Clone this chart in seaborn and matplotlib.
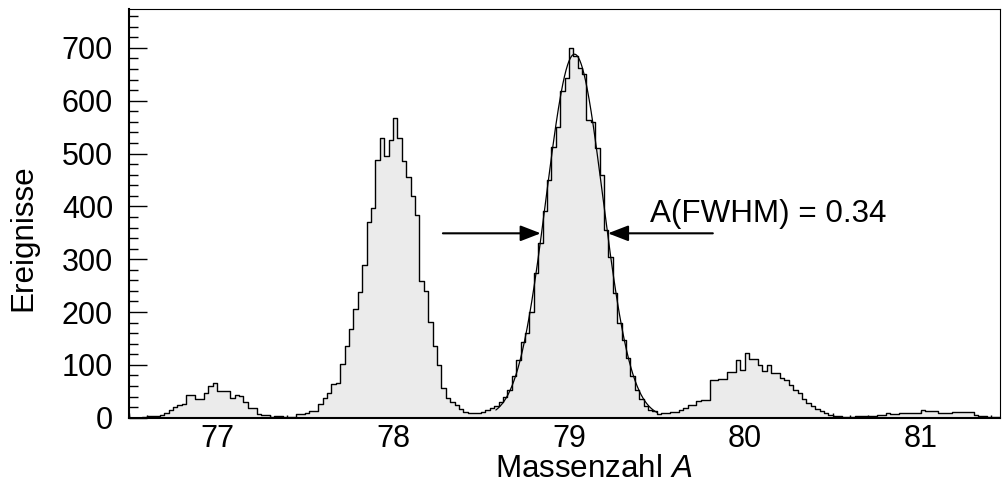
import numpy as np
import pandas as pd
import matplotlib
matplotlib.use("Agg")
import matplotlib.pyplot as plt
import seaborn as sns
from matplotlib.ticker import MultipleLocator, FixedLocator, NullFormatter

# ---------------- data ----------------
BIN_START = 76.5
BIN_WIDTH = 0.025

counts = [
    0, 0, 0, 2, 3, 4, 4, 5, 9, 14,            # 76.500 -
    20, 24, 26, 43, 43, 35, 36, 46, 60, 66,   # 76.750 -
    51, 51, 51, 37, 43, 42, 30, 19, 19, 7,    # 77.000 -
    5, 5, 2, 3, 3, 1, 1, 1, 7, 7,             # 77.250 -
    8, 12, 12, 26, 38, 46, 63, 65, 101, 135,  # 77.500 -
    168, 205, 237, 289, 371, 397, 488, 530, 496, 526,  # 77.750 -
    567, 530, 485, 456, 419, 384, 258, 239, 182, 135,  # 78.000 -
    100, 56, 37, 30, 24, 17, 11, 9, 9, 9,     # 78.250 -
    11, 14, 19, 22, 30, 40, 52, 78, 109, 144, # 78.500 -
    160, 200, 274, 330, 391, 450, 513, 551, 618, 643,  # 78.750 -
    700, 684, 662, 650, 564, 560, 510, 460, 356, 305,  # 79.000 -
    236, 179, 147, 113, 78, 52, 35, 22, 14, 13,        # 79.250 -
    7, 8, 8, 11, 11, 14, 18, 24, 24, 32,      # 79.500 -
    34, 34, 71, 72, 73, 73, 87, 87, 110, 90,  # 79.750 -
    123, 112, 112, 100, 89, 100, 84, 85, 75, 71,  # 80.000 -
    62, 53, 46, 36, 28, 22, 17, 12, 8, 6,     # 80.250 -
    3, 3, 2, 2, 2, 3, 3, 3, 4, 3,             # 80.500 -
    5, 5, 8, 7, 7, 8, 8, 9, 9, 9,             # 80.750 -
    14, 12, 12, 12, 8, 8, 8, 10, 10, 10,      # 81.000 -
    10, 11, 5, 3, 3, 2, 2, 2,                 # 81.250 - 81.450
]

x_ticks = [77, 78, 79, 80, 81]
x_half_ticks = [76.5, 77.5, 78.5, 79.5, 80.5]
y_ticks = [0, 100, 200, 300, 400, 500, 600, 700]

# Gaussian fit of the A = 79 peak
FIT_AMP = 688
FIT_MEAN = 79.032
FIT_SIGMA = 0.161
FIT_FROM, FIT_TO = 78.585, 79.50

fwhm_label = "A(FWHM) = 0.34"
x_label = "Massenzahl $A$"
y_label = "Ereignisse"

# ---------------- style ----------------
sns.set_theme(style="ticks")
plt.rcParams["font.family"] = ["Liberation Sans", "DejaVu Sans"]
plt.rcParams["mathtext.fontset"] = "custom"
plt.rcParams["mathtext.rm"] = "Liberation Sans"
plt.rcParams["mathtext.it"] = "Liberation Sans:italic"
for key in ["text.color", "axes.labelcolor", "xtick.color", "ytick.color",
            "axes.edgecolor"]:
    plt.rcParams[key] = "black"

FS_TICK = 22
FS_TEXT = 22.6

fig = plt.figure(figsize=(10.03, 4.92), dpi=100)
ax = fig.add_axes([129 / 1003, 1 - 417.7 / 492, (1000 - 129) / 1003, (417.7 - 9.3) / 492])

edges = BIN_START + BIN_WIDTH * np.arange(len(counts) + 1)
centers = edges[:-1] + BIN_WIDTH / 2
df = pd.DataFrame({"A": centers, "n": counts})

sns.histplot(data=df, x="A", weights="n", bins=[float(e) for e in edges],
             element="step", fill=True,
             facecolor="#ebebeb", edgecolor="black", linewidth=1.0, alpha=1,
             ax=ax)

xs = np.linspace(FIT_FROM, FIT_TO, 400)
ys = FIT_AMP * np.exp(-0.5 * ((xs - FIT_MEAN) / FIT_SIGMA) ** 2)
sns.lineplot(x=xs, y=ys, color="black", linewidth=0.9, estimator=None, ax=ax)

ax.set_xlim(BIN_START, edges[-1])
ax.set_ylim(0, 773)

ax.xaxis.set_major_locator(FixedLocator(x_ticks))
ax.xaxis.set_minor_locator(MultipleLocator(0.1))
ax.yaxis.set_major_locator(FixedLocator(y_ticks))
ax.yaxis.set_minor_locator(MultipleLocator(20))

ax.tick_params(axis="x", which="major", direction="in", length=5.0, width=1.0,
               labelsize=FS_TICK, pad=4.5, top=False)
ax.tick_params(axis="x", which="minor", direction="in", length=2.2, width=1.0, top=False)
ax.tick_params(axis="y", which="major", direction="in", length=12.7, width=1.0,
               labelsize=FS_TICK, pad=11.5, right=False)
ax.tick_params(axis="y", which="minor", direction="in", length=6.5, width=1.0, right=False)

sec = ax.secondary_xaxis("bottom")
sec.set_xticks(x_half_ticks)
sec.xaxis.set_major_formatter(NullFormatter())
sec.tick_params(direction="in", length=3.6, width=1.0)
for s in sec.spines.values():
    s.set_visible(False)

for side in ["left", "bottom"]:
    ax.spines[side].set_linewidth(1.5)
for side in ["top", "right"]:
    ax.spines[side].set_linewidth(0.8)
for s in ax.spines.values():
    s.set_visible(True)

ax.set_xlabel(x_label, fontsize=FS_TEXT)
ax.set_ylabel(y_label, fontsize=FS_TEXT)
ax.xaxis.set_label_coords(0.534, -0.090)
ax.yaxis.set_label_coords(-0.104, 0.44)

# FWHM arrows and label
arrow_kw = dict(arrowstyle="-|>,head_length=0.62,head_width=0.24", lw=1.5,
                color="black", shrinkA=0, shrinkB=0, mutation_scale=20)
ax.annotate("", xy=(78.840, 349), xytext=(78.284, 349), arrowprops=arrow_kw)
ax.annotate("", xy=(79.222, 349), xytext=(79.818, 349), arrowprops=arrow_kw)
ax.text(79.46, 371, fwhm_label, fontsize=FS_TEXT, ha="left", va="baseline")

ax.grid(False)
fig.savefig("out.png", dpi=100)
